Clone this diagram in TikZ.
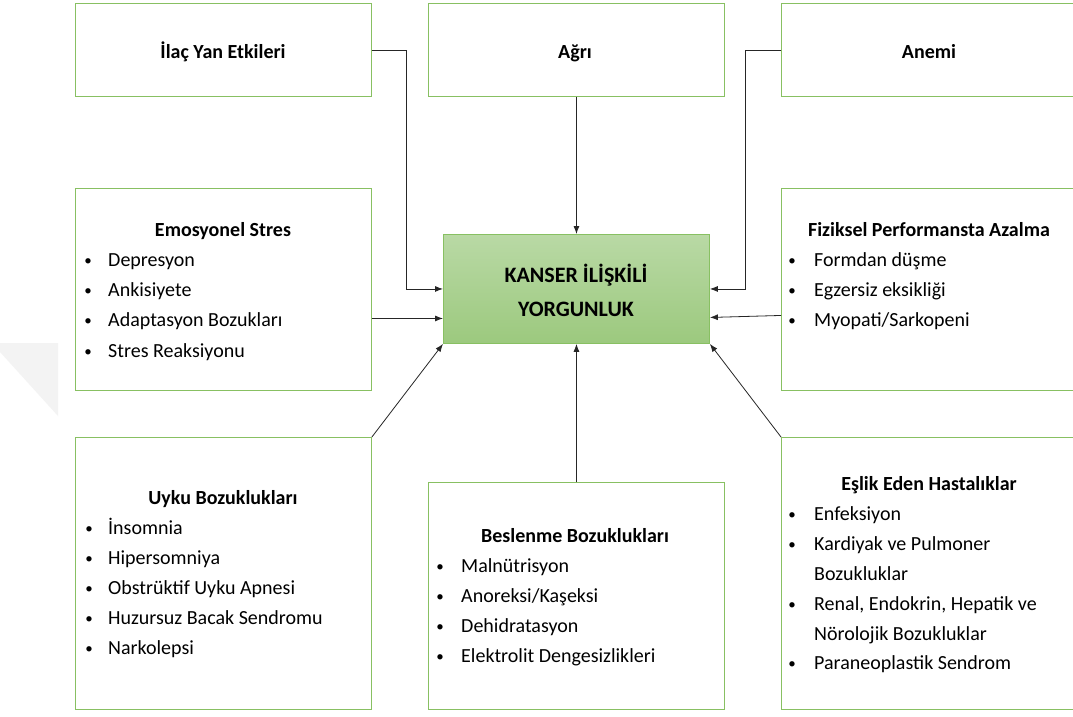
\documentclass[tikz,border=0pt]{standalone}
\usepackage{fontspec}
\setmainfont{Carlito}
\usetikzlibrary{arrows.meta}
\definecolor{boxgreen}{RGB}{136,192,98}
\definecolor{coretop}{RGB}{185,217,165}
\definecolor{corebot}{RGB}{156,201,126}
\definecolor{wmark}{RGB}{243,243,243}
\tikzset{
  x=1pt, y=-1pt,
  box/.style={draw=boxgreen, line width=0.9pt, fill=white, inner sep=0pt,
              anchor=north west, minimum width=296pt},
  core/.style={draw=boxgreen, line width=0.9pt, top color=coretop, bottom color=corebot,
               inner sep=0pt, anchor=north west, minimum width=266pt, minimum height=109pt},
  conn/.style={draw=black!85, line width=0.8pt, -{Latex[length=8pt,width=6pt]}},
  ttl/.style={font=\bfseries\fontsize{20}{24}\selectfont, anchor=base, inner sep=0pt},
  coretxt/.style={font=\bfseries\fontsize{22}{26}\selectfont, anchor=base, inner sep=0pt},
  item/.style={font=\fontsize{20}{24}\selectfont, anchor=base west, inner sep=0pt},
  dot/.style={font=\fontsize{15}{18}\selectfont, anchor=base, inner sep=0pt, yshift=1pt},
}
\begin{document}
\begin{tikzpicture}
\useasboundingbox (0,0) rectangle (1073,716);
\fill[white] (0,0) rectangle (1073,716);
% faint mark in the left margin
\fill[wmark] (0,343) -- (58,343) -- (58,416) -- (0,352) -- cycle;

% boxes
\node[box, minimum height=93pt]  (ilac)  at (75,3)    {};
\node[box, minimum height=93pt]  (agri)  at (428,3)   {};
\node[box, minimum height=93pt]  (anemi) at (781,3)   {};
\node[box, minimum height=202pt] (emo)   at (75,188)  {};
\node[box, minimum height=202pt] (fiz)   at (781,188) {};
\node[box, minimum height=272pt] (uyku)  at (75,437)  {};
\node[box, minimum height=227pt] (besl)  at (428,482) {};
\node[box, minimum height=272pt] (eslik) at (781,437) {};
\node[core] (center) at (443,234) {};

% central label
\node[coretxt] (c1) at (576,282) {KANSER İLİŞKİLİ};
\node[coretxt] (c2) at (576,316) {YORGUNLUK};

% top row labels
\node[ttl] (t1) at (223,58) {İlaç Yan Etkileri};
\node[ttl] (t2) at (575,58) {Ağrı};
\node[ttl] (t3) at (929,58) {Anemi};

% Emosyonel Stres
\node[ttl] (e0) at (223,236) {Emosyonel Stres};
\foreach \t [count=\i] in {Depresyon, Ankisiyete, Adaptasyon Bozukları, Stres Reaksiyonu}{
  \node[dot]  (ed\i) at (88,{236+30.3*\i}) {•};
  \node[item] (e\i)  at (108,{236+30.3*\i}) {\t};
}

% Fiziksel Performansta Azalma
\node[ttl] (f0) at (929,236) {Fiziksel Performansta Azalma};
\foreach \t [count=\i] in {Formdan düşme, Egzersiz eksikliği, Myopati/Sarkopeni}{
  \node[dot]  (fd\i) at (792,{236+30.3*\i}) {•};
  \node[item] (f\i)  at (814,{236+30.3*\i}) {\t};
}

% Uyku Bozuklukları
\node[ttl] (u0) at (223,504) {Uyku Bozuklukları};
\foreach \t [count=\i] in {İnsomnia, Hipersomniya, Obstrüktif Uyku Apnesi, Huzursuz Bacak Sendromu, Narkolepsi}{
  \node[dot]  (ud\i) at (89,{504+30*\i}) {•};
  \node[item] (u\i)  at (108,{504+30*\i}) {\t};
}

% Beslenme Bozuklukları
\node[ttl] (b0) at (575,542) {Beslenme Bozuklukları};
\foreach \t [count=\i] in {Malnütrisyon, Anoreksi/Kaşeksi, Dehidratasyon, Elektrolit Dengesizlikleri}{
  \node[dot]  (bd\i) at (440,{542+30.2*\i}) {•};
  \node[item] (b\i)  at (461,{542+30.2*\i}) {\t};
}

% Eşlik Eden Hastalıklar
\node[ttl] (h0) at (929,490) {Eşlik Eden Hastalıklar};
\node[dot]  (hd1) at (792,520) {•};
\node[item] (h1)  at (814,520) {Enfeksiyon};
\node[dot]  (hd2) at (792,550) {•};
\node[item] (h2)  at (814,550) {Kardiyak ve Pulmoner};
\node[item] (h2b) at (814,580) {Bozukluklar};
\node[dot]  (hd3) at (792,610) {•};
\node[item] (h3)  at (814,610) {Renal, Endokrin, Hepatik ve};
\node[item] (h3b) at (814,640) {Nörolojik Bozukluklar};
\node[dot]  (hd4) at (792,669) {•};
\node[item] (h4)  at (814,669) {Paraneoplastik Sendrom};

% bend points of the elbow connectors
\coordinate (lbend) at (406,50);
\coordinate (rbend) at (745,50);

% connectors
\draw[conn] (ilac.east) -| (lbend |- center.west) -- (center.west);
\draw[conn] (anemi.west) -| (rbend |- center.east) -- (center.east);
\draw[conn] (agri.south) -- (agri.south |- center.north);
\draw[conn] ([yshift=-29pt]emo.east) -- ([yshift=-29pt]emo.east -| center.west);
\draw[conn] ([yshift=-26pt]fiz.west) -- ([yshift=-28.5pt]center.east);
\draw[conn] (uyku.north east) -- (center.south west);
\draw[conn] (besl.north) -- (besl.north |- center.south);
\draw[conn] (eslik.north west) -- (center.south east);
\end{tikzpicture}
\end{document}
